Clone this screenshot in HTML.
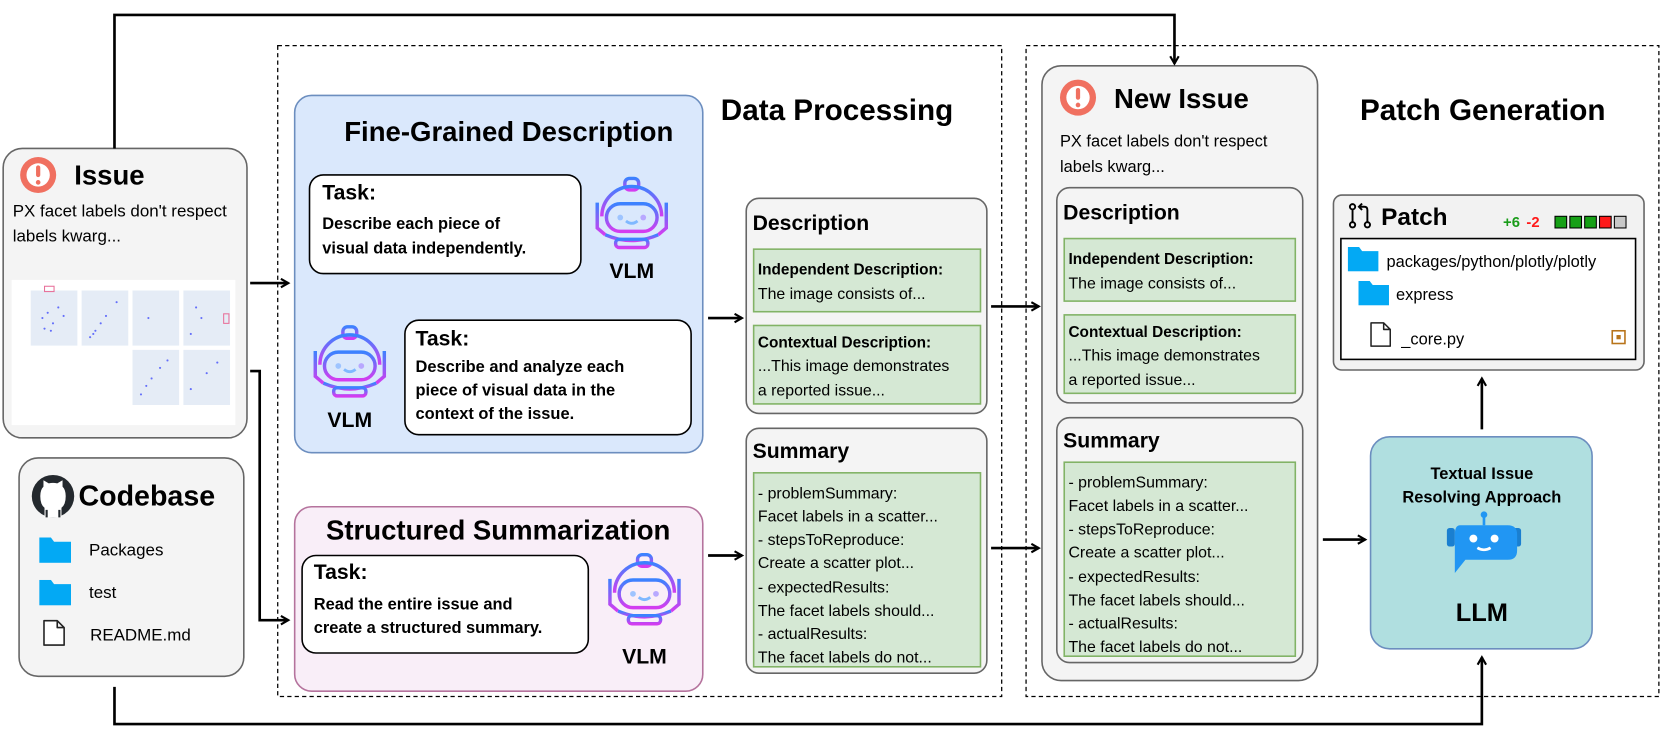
<!DOCTYPE html>
<html><head><meta charset="utf-8"><style>
html,body{margin:0;padding:0;background:#fff;}
svg{display:block;font-family:"Liberation Sans",Arial,sans-serif;}
.b{font-weight:bold;}
</style></head><body>
<svg width="1661" height="740" viewBox="0 0 1567 698" xmlns="http://www.w3.org/2000/svg">
<defs>
<linearGradient id="g" x1="0" y1="0" x2="0" y2="1">
<stop offset="0" stop-color="#3b82ff"/><stop offset="1" stop-color="#d43cf0"/></linearGradient>
<marker id="ar" markerWidth="10" markerHeight="10" refX="8" refY="5" orient="auto" markerUnits="userSpaceOnUse">
<path d="M1,1 L8,5 L1,9" fill="none" stroke="#000" stroke-width="2"/></marker>
<symbol id="robot" viewBox="0 0 70 70">
<g fill="none" stroke="url(#g)" stroke-width="3">
<rect x="29" y="3" width="12" height="10" rx="4"/>
<path d="M9,36 A26,26 0 0 1 61,36"/>
<rect x="13" y="25" width="44" height="24" rx="12"/>
<path d="M5,24 L5,46 L12,52 M65,24 L65,46 L58,52"/>
<path d="M12,52 Q35,62 58,52"/>
<rect x="21" y="56" width="28" height="7" rx="3"/>
<path d="M30,40 Q35,44 40,40" stroke="#7fb8ff" stroke-width="2.5"/>
</g>
<circle cx="25" cy="37" r="2.5" fill="#9ec4ff"/><circle cx="45" cy="37" r="2.5" fill="#b8a8ff"/>
</symbol>
<symbol id="folder" viewBox="0 0 30 24">
<path d="M0,0 H11 L14,4 H30 V24 H0 Z" fill="#03a9f4"/>
</symbol>
<symbol id="file" viewBox="0 0 22 26">
<path d="M1.5,1.5 H14 L20.5,8 V24.5 H1.5 Z M14,1.5 V8 H20.5" fill="#fff" stroke="#222" stroke-width="1.5" stroke-linejoin="round"/>
</symbol>
</defs>

<rect x="262" y="43" width="683" height="614" fill="none" stroke="#000" stroke-width="1.2" stroke-dasharray="4,3"/>
<rect x="968" y="43" width="597" height="614" fill="none" stroke="#000" stroke-width="1.2" stroke-dasharray="4,3"/>

<text x="680" y="113" class="b" font-size="28">Data Processing</text>
<text x="1283" y="113" class="b" font-size="28">Patch Generation</text>

<!-- Issue -->
<rect x="3" y="140" width="230" height="273" rx="18" fill="#f4f4f4" stroke="#666" stroke-width="1.5"/>
<circle cx="36" cy="165" r="17" fill="#f07060"/><circle cx="36" cy="165" r="11" fill="#fff"/>
<rect x="34" y="156" width="4" height="11" rx="2" fill="#f07060"/><circle cx="36" cy="172" r="2.2" fill="#f07060"/>
<text x="70" y="174" class="b" font-size="26">Issue</text>
<text x="12" y="204" font-size="16">PX facet labels don't respect</text>
<text x="12" y="228" font-size="16">labels kwarg...</text>
<rect x="11" y="264" width="211" height="137" fill="#fff"/>
<g fill="#e5ecf6">
<rect x="29" y="274" width="44" height="52"/><rect x="77" y="274" width="44" height="52"/>
<rect x="125" y="274" width="44" height="52"/><rect x="173" y="274" width="44" height="52"/>
<rect x="125" y="330" width="44" height="52"/><rect x="173" y="330" width="44" height="52"/>
</g>
<g fill="#636efa">
<circle cx="40" cy="300" r="1"/><circle cx="45" cy="295" r="1"/><circle cx="50" cy="305" r="1"/><circle cx="55" cy="290" r="1"/><circle cx="42" cy="310" r="1"/><circle cx="60" cy="298" r="1"/><circle cx="48" cy="312" r="1"/>
<circle cx="85" cy="318" r="1"/><circle cx="90" cy="312" r="1"/><circle cx="95" cy="305" r="1"/><circle cx="100" cy="298" r="1"/><circle cx="110" cy="285" r="1"/><circle cx="88" cy="315" r="1"/>
<circle cx="140" cy="300" r="1"/><circle cx="185" cy="290" r="1"/><circle cx="190" cy="300" r="1"/><circle cx="180" cy="315" r="1"/>
<circle cx="133" cy="372" r="1"/><circle cx="138" cy="364" r="1"/><circle cx="143" cy="357" r="1"/><circle cx="151" cy="347" r="1"/><circle cx="158" cy="340" r="1"/>
<circle cx="180" cy="367" r="1"/><circle cx="195" cy="352" r="1"/><circle cx="205" cy="342" r="1"/>
</g>
<rect x="42" y="270" width="9" height="5" fill="none" stroke="#e8709a"/><rect x="211" y="296" width="5" height="9" fill="none" stroke="#e8709a"/>

<!-- Codebase -->
<rect x="18" y="432" width="212" height="206" rx="18" fill="#f4f4f4" stroke="#666" stroke-width="1.5"/>
<circle cx="50" cy="468" r="20" fill="#24292e"/>
<path d="M42,488 V479 Q38,476 38,468 Q38,462 41,459 L41,453 L46,456 Q50,455 54,456 L59,453 L59,459 Q62,462 62,468 Q62,476 58,479 V488 Z" fill="#fff"/>
<path d="M44,488 V481 M56,488 V481" stroke="#24292e" stroke-width="2"/>
<text x="74" y="477" class="b" font-size="27">Codebase</text>
<use href="#folder" x="37" y="507" width="30" height="24"/>
<text x="84" y="524" font-size="16">Packages</text>
<use href="#folder" x="37" y="547" width="30" height="24"/>
<text x="84" y="564" font-size="16">test</text>
<use href="#file" x="40" y="584" width="22" height="26"/>
<text x="85" y="604" font-size="16">README.md</text>

<!-- Fine-Grained -->
<rect x="278" y="90" width="385" height="337" rx="16" fill="#dae8fc" stroke="#6c8ebf" stroke-width="1.5"/>
<text x="480" y="133" class="b" font-size="26" text-anchor="middle">Fine-Grained Description</text>
<rect x="292" y="165" width="256" height="93" rx="13" fill="#fff" stroke="#000" stroke-width="1.5"/>
<text x="304" y="188" class="b" font-size="20">Task:</text>
<text x="304" y="216" class="b" font-size="15.5">Describe each piece of</text>
<text x="304" y="239" class="b" font-size="15.5">visual data independently.</text>
<use href="#robot" x="558" y="165" width="76" height="76"/>
<text x="596" y="262" class="b" font-size="20" text-anchor="middle">VLM</text>
<use href="#robot" x="292" y="305" width="76" height="76"/>
<text x="330" y="403" class="b" font-size="20" text-anchor="middle">VLM</text>
<rect x="382" y="302" width="270" height="108" rx="13" fill="#fff" stroke="#000" stroke-width="1.5"/>
<text x="392" y="326" class="b" font-size="20">Task:</text>
<text x="392" y="351" class="b" font-size="15.5">Describe and analyze each</text>
<text x="392" y="373" class="b" font-size="15.5">piece of visual data in the</text>
<text x="392" y="395" class="b" font-size="15.5">context of the issue.</text>

<!-- Structured Summarization -->
<rect x="278" y="478" width="385" height="174" rx="16" fill="#f9eef8" stroke="#b5739d" stroke-width="1.5"/>
<text x="470" y="509" class="b" font-size="26" text-anchor="middle">Structured Summarization</text>
<rect x="285" y="524" width="270" height="92" rx="13" fill="#fff" stroke="#000" stroke-width="1.5"/>
<text x="296" y="546" class="b" font-size="20">Task:</text>
<text x="296" y="575" class="b" font-size="15.5">Read the entire issue and</text>
<text x="296" y="597" class="b" font-size="15.5">create a structured summary.</text>
<use href="#robot" x="570" y="520" width="76" height="76"/>
<text x="608" y="626" class="b" font-size="20" text-anchor="middle">VLM</text>

<!-- Description (left) -->
<rect x="704" y="187" width="227" height="203" rx="12" fill="#f4f4f4" stroke="#666" stroke-width="1.5"/>
<text x="710" y="217" class="b" font-size="20">Description</text>
<rect x="711" y="235" width="214" height="59" fill="#d5e8d4" stroke="#82b366" stroke-width="1.5"/>
<text x="715" y="259" class="b" font-size="14.5">Independent Description:</text>
<text x="715" y="282" font-size="15">The image consists of...</text>
<rect x="711" y="307" width="214" height="74" fill="#d5e8d4" stroke="#82b366" stroke-width="1.5"/>
<text x="715" y="328" class="b" font-size="14.5">Contextual Description:</text>
<text x="715" y="350" font-size="15">...This image demonstrates</text>
<text x="715" y="373" font-size="15">a reported issue...</text>
<rect x="704" y="404" width="227" height="231" rx="12" fill="#f4f4f4" stroke="#666" stroke-width="1.5"/>
<text x="710" y="432" class="b" font-size="20">Summary</text>
<rect x="711" y="446" width="214" height="183" fill="#d5e8d4" stroke="#82b366" stroke-width="1.5"/>
<g font-size="15">
<text x="715" y="470">- problemSummary:</text>
<text x="715" y="492">Facet labels in a scatter...</text>
<text x="715" y="514">- stepsToReproduce:</text>
<text x="715" y="536">Create a scatter plot...</text>
<text x="715" y="559">- expectedResults:</text>
<text x="715" y="581">The facet labels should...</text>
<text x="715" y="603">- actualResults:</text>
<text x="715" y="625">The facet labels do not...</text>
</g>

<!-- New Issue -->
<rect x="983" y="62" width="260" height="580" rx="18" fill="#f4f4f4" stroke="#666" stroke-width="1.5"/>
<circle cx="1017" cy="92" r="17" fill="#f07060"/><circle cx="1017" cy="92" r="11" fill="#fff"/>
<rect x="1015" y="83" width="4" height="11" rx="2" fill="#f07060"/><circle cx="1017" cy="99" r="2.2" fill="#f07060"/>
<text x="1051" y="102" class="b" font-size="26">New Issue</text>
<text x="1000" y="138" font-size="15.5">PX facet labels don't respect</text>
<text x="1000" y="162" font-size="15.5">labels kwarg...</text>
<g transform="translate(293,-10)">
<rect x="704" y="187" width="232" height="203" rx="12" fill="#f4f4f4" stroke="#666" stroke-width="1.5"/>
<text x="710" y="217" class="b" font-size="20">Description</text>
<rect x="711" y="235" width="218" height="59" fill="#d5e8d4" stroke="#82b366" stroke-width="1.5"/>
<text x="715" y="259" class="b" font-size="14.5">Independent Description:</text>
<text x="715" y="282" font-size="15">The image consists of...</text>
<rect x="711" y="307" width="218" height="74" fill="#d5e8d4" stroke="#82b366" stroke-width="1.5"/>
<text x="715" y="328" class="b" font-size="14.5">Contextual Description:</text>
<text x="715" y="350" font-size="15">...This image demonstrates</text>
<text x="715" y="373" font-size="15">a reported issue...</text>
<rect x="704" y="404" width="232" height="231" rx="12" fill="#f4f4f4" stroke="#666" stroke-width="1.5"/>
<text x="710" y="432" class="b" font-size="20">Summary</text>
<rect x="711" y="446" width="218" height="183" fill="#d5e8d4" stroke="#82b366" stroke-width="1.5"/>
<g font-size="15">
<text x="715" y="470">- problemSummary:</text>
<text x="715" y="492">Facet labels in a scatter...</text>
<text x="715" y="514">- stepsToReproduce:</text>
<text x="715" y="536">Create a scatter plot...</text>
<text x="715" y="559">- expectedResults:</text>
<text x="715" y="581">The facet labels should...</text>
<text x="715" y="603">- actualResults:</text>
<text x="715" y="625">The facet labels do not...</text>
</g>
</g>

<!-- Patch -->
<rect x="1258" y="184" width="293" height="165" rx="8" fill="#f2f2f2" stroke="#666" stroke-width="1.5"/>
<rect x="1265" y="225" width="278" height="114" fill="#fff" stroke="#000" stroke-width="1.5"/>
<g fill="none" stroke="#000" stroke-width="1.8">
<circle cx="1276" cy="195" r="2.5"/><circle cx="1276" cy="212" r="2.5"/><path d="M1276,198 V209"/>
<circle cx="1290" cy="212" r="2.5"/><path d="M1290,209 V198 Q1290,195 1287,195 H1283 M1285,192 L1282,195 L1285,198"/>
</g>
<text x="1303" y="212" class="b" font-size="23">Patch</text>
<text x="1418" y="214" class="b" font-size="14" fill="#1a9c1a">+6</text>
<text x="1440" y="214" class="b" font-size="14" fill="#ff1a1a">-2</text>
<g stroke="#000" stroke-width="1">
<rect x="1467" y="204" width="11" height="11" fill="#16a016"/><rect x="1481" y="204" width="11" height="11" fill="#16a016"/>
<rect x="1495" y="204" width="11" height="11" fill="#16a016"/><rect x="1509" y="204" width="11" height="11" fill="#ff1a1a"/>
<rect x="1523" y="204" width="11" height="11" fill="#c8c8c8"/>
</g>
<use href="#folder" x="1271" y="233" width="30" height="23"/>
<text x="1308" y="252" font-size="15.5">packages/python/plotly/plotly</text>
<use href="#folder" x="1281" y="265" width="30" height="23"/>
<text x="1317" y="283" font-size="15.5">express</text>
<use href="#file" x="1292" y="303" width="21" height="25"/>
<text x="1322" y="325" font-size="15.5">_core.py</text>
<rect x="1521" y="312" width="12" height="12" fill="#fff" stroke="#b8741a" stroke-width="1.5"/><rect x="1525" y="316" width="4" height="4" fill="#b8741a"/>

<!-- LLM -->
<rect x="1293" y="412" width="209" height="200" rx="18" fill="#b0dfe0" stroke="#6c8ebf" stroke-width="1.5"/>
<text x="1398" y="452" class="b" font-size="15.5" text-anchor="middle">Textual Issue</text>
<text x="1398" y="474" class="b" font-size="15.5" text-anchor="middle">Resolving Approach</text>
<g transform="translate(1400,518) scale(1.25) translate(-1400,-518)">
<circle cx="1400" cy="492" r="2.5" fill="#2196f3"/><path d="M1400,492 V500" stroke="#2196f3" stroke-width="2"/>
<rect x="1372" y="502" width="6" height="14" rx="2" fill="#1a7fd0"/><rect x="1422" y="502" width="6" height="14" rx="2" fill="#1a7fd0"/>
<path d="M1382,500 H1418 Q1425,500 1425,507 V519 Q1425,526 1418,526 H1386 L1378,536 V507 Q1378,500 1382,500 Z" fill="#2196f3"/>
<circle cx="1392" cy="510" r="3" fill="#fff"/><circle cx="1408" cy="510" r="3" fill="#fff"/>
<path d="M1395,517 Q1400,520 1405,517" stroke="#fff" stroke-width="2" fill="none"/>
</g>
<text x="1398" y="586" class="b" font-size="24" text-anchor="middle">LLM</text>

<!-- connectors (drawn last) -->
<path d="M108,140 V14 H1108 V60" fill="none" stroke="#000" stroke-width="2.5" marker-end="url(#ar)"/>
<path d="M236,267 H272" fill="none" stroke="#000" stroke-width="2.5" marker-end="url(#ar)"/>
<path d="M236,350 H245 V585 H272" fill="none" stroke="#000" stroke-width="2.5" marker-end="url(#ar)"/>
<path d="M108,648 V683 H1398 V620" fill="none" stroke="#000" stroke-width="2.5" marker-end="url(#ar)"/>
<path d="M668,300 H700" stroke="#000" stroke-width="2.5" marker-end="url(#ar)"/>
<path d="M668,524 H700" stroke="#000" stroke-width="2.5" marker-end="url(#ar)"/>
<path d="M935,289 H980" stroke="#000" stroke-width="2.5" marker-end="url(#ar)"/>
<path d="M935,517 H980" stroke="#000" stroke-width="2.5" marker-end="url(#ar)"/>
<path d="M1248,509 H1288" stroke="#000" stroke-width="2.5" marker-end="url(#ar)"/>
<path d="M1398,405 V357" stroke="#000" stroke-width="2.5" marker-end="url(#ar)"/>
</svg>
</body></html>
